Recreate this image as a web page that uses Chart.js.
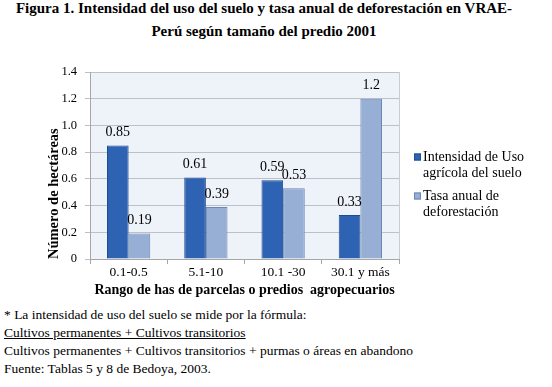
<!DOCTYPE html>
<html>
<head>
<meta charset="utf-8">
<script src="https://cdn.jsdelivr.net/npm/chart.js@4"></script>
<style>
  body { margin: 0; background: #fff; font-family: 'Liberation Serif', serif; color: #000; }
  #wrap { position: relative; width: 552px; height: 387px; overflow: hidden; }
  #title { position: absolute; top: -3px; left: -12px; width: 552px; text-align: center; font-weight: bold; font-size: 15px; line-height: 23px; }
  #chartBox { position: absolute; top: 45px; left: 0; width: 552px; height: 254px; }
  #notes { position: absolute; top: 306px; left: 4px; font-size: 13.5px; line-height: 18px; }
  #notes u { text-decoration: underline; }
</style>
</head>
<body>
<div id="wrap">
  <div id="title">Figura 1. Intensidad del uso del suelo y tasa anual de deforestación en VRAE-<br>Perú según tamaño del predio 2001</div>
  <div id="chartBox"><canvas id="myChart"></canvas></div>
  <div id="notes">
    * La intensidad de uso del suelo se mide por la fórmula:<br>
    <u>Cultivos permanentes + Cultivos transitorios</u><br>
    Cultivos permanentes + Cultivos transitorios + purmas o áreas en abandono<br>
    Fuente: Tablas 5 y 8 de Bedoya, 2003.
  </div>
</div>
<script>
var categories = ["0.1-0.5", "5.1-10", "10.1 -30", "30.1 y más"];
var intensidad = [0.85, 0.61, 0.59, 0.33];
var tasa = [0.19, 0.39, 0.53, 1.2];
var seriesNames = [["Intensidad de Uso", "agrícola del suelo"], ["Tasa anual de", "deforestación"]];
var yTicks = [0, 0.2, 0.4, 0.6, 0.8, 1, 1.2, 1.4];

var serif = "'Liberation Serif', serif";

// light background behind the plot
var plotBg = {
  id: "plotBg",
  beforeDraw: function (chart) {
    var a = chart.chartArea, ctx = chart.ctx;
    ctx.save();
    ctx.fillStyle = "#eef2f9";
    ctx.fillRect(a.left, a.top, a.right - a.left, a.bottom - a.top);
    ctx.strokeStyle = "#c9ccd2";
    ctx.lineWidth = 1;
    ctx.beginPath();
    ctx.moveTo(a.right + 0.5, a.top);
    ctx.lineTo(a.right + 0.5, a.bottom);
    ctx.stroke();
    ctx.restore();
  }
};

// values over the bars
var barValues = {
  id: "barValues",
  afterDatasetsDraw: function (chart) {
    var ctx = chart.ctx;
    ctx.save();
    ctx.font = "14px " + serif;
    ctx.fillStyle = "#000";
    ctx.textAlign = "center";
    ctx.textBaseline = "middle";
    chart.data.datasets.forEach(function (ds, i) {
      chart.getDatasetMeta(i).data.forEach(function (bar, j) {
        ctx.fillText(String(ds.data[j]), bar.x, bar.y - 13);
      });
    });
    ctx.restore();
  }
};

// legend on the right, two lines per item
var sideLegend = {
  id: "sideLegend",
  afterDraw: function (chart) {
    var ctx = chart.ctx, a = chart.chartArea;
    var x = a.right + 15, y = 112;
    ctx.save();
    ctx.font = "14px " + serif;
    ctx.textBaseline = "middle";
    chart.data.datasets.forEach(function (ds, i) {
      ctx.fillStyle = ds.backgroundColor;
      ctx.fillRect(x, y - 3.5, 7, 7);
      ctx.strokeStyle = ds.borderColor;
      ctx.lineWidth = 1;
      ctx.strokeRect(x + 0.5, y - 3, 6, 6);
      ctx.fillStyle = "#000";
      seriesNames[i].forEach(function (line, k) {
        ctx.fillText(line, x + 9, y + k * 16);
      });
      y += 39;
    });
    ctx.restore();
  }
};

function drawChart() {
  var ctx1 = document.getElementById("myChart").getContext("2d");
  var myChart = new Chart(ctx1, {
    type: "bar",
    data: {
      labels: categories,
      datasets: [
        {
          label: seriesNames[0].join(" "),
          data: intensidad,
          backgroundColor: "#2e63b3",
          borderColor: "#1f4d8e",
          borderWidth: 1,
          barPercentage: 1,
          categoryPercentage: 0.56
        },
        {
          label: seriesNames[1].join(" "),
          data: tasa,
          backgroundColor: "#98afd5",
          borderColor: "#6b87b7",
          borderWidth: 1,
          barPercentage: 1,
          categoryPercentage: 0.56
        }
      ]
    },
    options: {
      responsive: true,
      maintainAspectRatio: false,
      animation: false,
      layout: { padding: { left: 0, right: 153, top: 27, bottom: 0 } },
      plugins: {
        legend: { display: false },
        tooltip: { enabled: false }
      },
      scales: {
        x: {
          afterFit: function (axis) { axis.height = 40; },
          grid: { display: true, drawOnChartArea: false, offset: true, color: "#a6a6a6", tickLength: 5 },
          border: { color: "#a6a6a6" },
          ticks: { color: "#000", font: { family: serif, size: 13.5 }, padding: 0 },
          title: { display: true, text: "Rango de has de parcelas o predios  agropecuarios", color: "#000", font: { family: serif, size: 14, weight: "bold" }, padding: { top: 0, bottom: 0 } }
        },
        y: {
          min: 0,
          max: 1.4,
          afterBuildTicks: function (axis) {
            axis.ticks = yTicks.map(function (v) { return { value: v }; });
          },
          afterFit: function (axis) { axis.width = 90; },
          grid: { color: "#bcc0c7", tickLength: 5 },
          border: { color: "#a6a6a6" },
          ticks: { color: "#000", font: { family: serif, size: 12.5 }, padding: 8 },
          title: { display: true, align: "start", text: "Número de hectáreas", color: "#000", font: { family: serif, size: 14.5, weight: "bold" }, padding: { top: 46, bottom: 0 } }
        }
      }
    },
    plugins: [plotBg, barValues, sideLegend]
  });
}

if (document.fonts && document.fonts.load) {
  Promise.all([
    document.fonts.load("14px 'Liberation Serif'"),
    document.fonts.load("bold 14px 'Liberation Serif'")
  ]).then(drawChart, drawChart);
} else {
  drawChart();
}
</script>
</body>
</html>
